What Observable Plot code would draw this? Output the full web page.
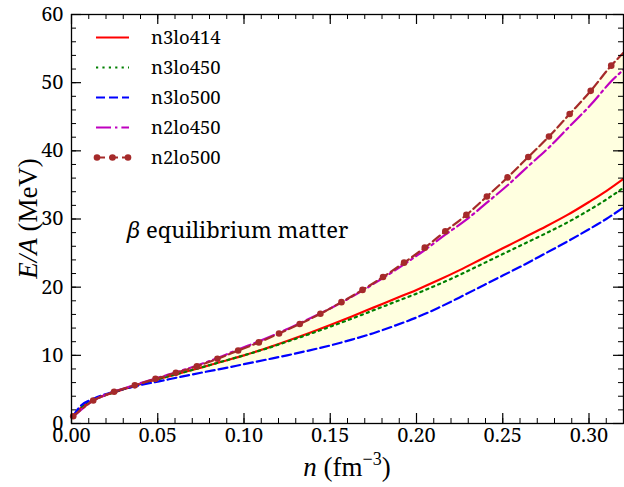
<!DOCTYPE html>
<html><head><meta charset="utf-8">
<script src="https://cdn.jsdelivr.net/npm/d3@7"></script>
<script src="https://cdn.jsdelivr.net/npm/@observablehq/plot@0.6"></script>
<style>
body{margin:0;background:#fff}
#chart{position:relative;width:624px;height:487px}
svg{display:block}
.lab{font-family:serif}
.txt{font-family:"Noto Serif"}
</style>
</head><body><div id="chart"></div>
<script>
// ---- data ----
const nN3 = [0.001,0.005,0.0125,0.025,0.0375,0.05,0.0625,0.075,0.0875,0.1,0.1125,0.125,0.1375,0.15,0.1625,0.175,0.1875,0.2,0.2125,0.225,0.2375,0.25,0.2625,0.275,0.2875,0.3,0.31,0.32];
const eN3lo414 = [1.0,2.2,3.4,4.6,5.6,6.5,7.35,8.2,9.1,10.0,11.0,12.1,13.25,14.45,15.7,17.0,18.3,19.6,21.0,22.5,24.1,25.7,27.3,28.9,30.6,32.5,34.1,35.9];
const eN3lo450 = [1.0,2.2,3.4,4.6,5.6,6.5,7.35,8.2,9.1,10.0,10.95,12.0,13.08,14.2,15.38,16.6,17.83,19.05,20.38,21.8,23.33,24.85,26.38,27.9,29.5,31.3,32.85,34.6];
const eN3lo500 = [1.1,2.5,3.6,4.7,5.5,6.15,6.8,7.45,8.05,8.7,9.35,10.0,10.7,11.45,12.3,13.25,14.35,15.55,16.95,18.5,20.1,21.7,23.3,25.0,26.7,28.5,30.0,31.7];
const nN2 = [0.001,0.0126,0.0247,0.0367,0.0487,0.0605,0.0727,0.0846,0.0966,0.1086,0.1203,0.1323,0.1443,0.1565,0.1687,0.1806,0.1928,0.2048,0.2167,0.2289,0.2408,0.2528,0.2648,0.2768,0.2888,0.301,0.3129,0.32];
const eN2lo450 = [1.0,3.35,4.68,5.65,6.6,7.5,8.5,9.6,10.85,12.05,13.3,14.7,16.15,17.75,19.5,21.35,23.35,25.45,27.7,29.9,32.4,34.95,37.75,40.5,43.6,46.75,50.2,51.9];
const eN2lo500 = [1.07,3.37,4.65,5.6,6.55,7.43,8.4,9.49,10.7,11.9,13.2,14.6,16.1,17.8,19.6,21.5,23.6,25.8,28.2,30.6,33.3,36.1,39.1,42.1,45.4,48.8,52.5,54.4];
const seriesNames = ["n3lo414","n3lo450","n3lo500","n2lo450","n2lo500"];
const xMajorTicks = [0,0.05,0.10,0.15,0.20,0.25,0.30];
const xMinorTicks = [0,0.01,0.02,0.03,0.04,0.05,0.06,0.07,0.08,0.09,0.10,0.11,0.12,0.13,0.14,0.15,0.16,0.17,0.18,0.19,0.20,0.21,0.22,0.23,0.24,0.25,0.26,0.27,0.28,0.29,0.30,0.31,0.32];
const yMajorTicks = [0,10,20,30,40,50,60];
const yMinorTicks = [0,2,4,6,8,10,12,14,16,18,20,22,24,26,28,30,32,34,36,38,40,42,44,46,48,50,52,54,56,58,60];
const annotationText = "equilibrium matter";

// ---- styles ----
const styles = {
  n3lo414:{stroke:"#ff0000", dash:null},
  n3lo450:{stroke:"#008000", dash:"2.2,4.2"},
  n3lo500:{stroke:"#0000ff", dash:"9,4"},
  n2lo450:{stroke:"#bf00bf", dash:"15,4,2.4,4"},
  n2lo500:{stroke:"#a52a2a", dash:"9,4"}
};
const W=624,H=487,mL=71,mR=1,mT=14,mB=64;
const pw=W-mL-mR, ph=H-mT-mB;
const LW = 2.2;

const rows = (ns,es) => ns.map((n,i)=>({n, e:es[i]}));
const d414 = rows(nN3,eN3lo414), d450 = rows(nN3,eN3lo450), d500 = rows(nN3,eN3lo500);
const d2450 = rows(nN2,eN2lo450), d2500 = rows(nN2,eN2lo500);
const series = {n3lo414:d414, n3lo450:d450, n3lo500:d500, n2lo450:d2450, n2lo500:d2500};

const lineMark = name => Plot.line(series[name], {x:"n", y:"e", stroke:styles[name].stroke, strokeWidth:LW,
  strokeDasharray: styles[name].dash || undefined, curve:"monotone-x"});

const MAJ=10, MIN=5;
const plot = Plot.plot({
  width:W, height:H, marginLeft:mL, marginRight:mR, marginTop:mT, marginBottom:mB,
  x:{domain:[0,0.32]}, y:{domain:[0,60]},
  style:{fontFamily:"Noto Serif", background:"white", color:"black"},
  marks:[
    Plot.areaY(d2500, {x:"n", y:"e", fill:"#ffffe0", curve:"monotone-x"}),
    Plot.areaY(d500, {x:"n", y:"e", fill:"white", curve:"monotone-x"}),
    lineMark("n3lo414"), lineMark("n3lo450"), lineMark("n3lo500"), lineMark("n2lo450"), lineMark("n2lo500"),
    Plot.dot(d2500.filter((d,i)=>i<d2500.length-1), {x:"n", y:"e", r:3.3, fill:styles.n2lo500.stroke, stroke:"none"}),
    // inward ticks on all four sides
    Plot.ruleX(xMajorTicks, {x:d=>d, insetTop:ph-MAJ, stroke:"black", strokeWidth:1.2}),
    Plot.ruleX(xMajorTicks, {x:d=>d, insetBottom:ph-MAJ, stroke:"black", strokeWidth:1.2}),
    Plot.ruleX(xMinorTicks, {x:d=>d, insetTop:ph-MIN, stroke:"black", strokeWidth:1}),
    Plot.ruleX(xMinorTicks, {x:d=>d, insetBottom:ph-MIN, stroke:"black", strokeWidth:1}),
    Plot.ruleY(yMajorTicks, {y:d=>d, insetRight:pw-MAJ, stroke:"black", strokeWidth:1.2}),
    Plot.ruleY(yMajorTicks, {y:d=>d, insetLeft:pw-MAJ, stroke:"black", strokeWidth:1.2}),
    Plot.ruleY(yMinorTicks, {y:d=>d, insetRight:pw-MIN, stroke:"black", strokeWidth:1}),
    Plot.ruleY(yMinorTicks, {y:d=>d, insetLeft:pw-MIN, stroke:"black", strokeWidth:1}),
    Plot.frame({stroke:"black", strokeWidth:1.3}),
    Plot.axisX(xMajorTicks, {tickSize:0, tickPadding:4, tickFormat:d3.format(".2f"), fontSize:20, label:null}),
    Plot.axisY(yMajorTicks, {tickSize:0, tickPadding:8, tickFormat:d=>String(d), fontSize:20, label:null})
  ]
});
document.getElementById("chart").appendChild(plot);

const svg = d3.select(plot);
// axis labels
const xl = svg.append("text").attr("class","lab").attr("x", mL+pw/2).attr("y", 476).attr("text-anchor","middle").attr("font-size",27);
xl.append("tspan").attr("font-style","italic").text("n");
xl.append("tspan").text(" (fm");
xl.append("tspan").attr("font-size",18).attr("dy",-11).text("\u22123");
xl.append("tspan").attr("dy",11).text(")");

const yl = svg.append("text").attr("class","lab").attr("transform",`translate(37,${mT+ph/2}) rotate(-90)`).attr("text-anchor","middle").attr("font-size",27);
yl.append("tspan").attr("font-style","italic").text("E/A");
yl.append("tspan").text(" (MeV)");

// annotation
const an = svg.append("text").attr("class","txt").attr("x",127).attr("y",238).attr("text-anchor","start").attr("font-size",22);
an.append("tspan").attr("font-style","italic").text("\u03B2");
an.append("tspan").text(" "+annotationText);

// legend
const lg = svg.append("g");
seriesNames.forEach((name,i)=>{
  const y = 37.5 + i*30;
  lg.append("line").attr("x1",96).attr("x2",129).attr("y1",y).attr("y2",y)
    .attr("stroke",styles[name].stroke).attr("stroke-width",LW)
    .attr("stroke-dasharray",styles[name].dash);
  if(name==="n2lo500"){
    [97,112.5,128].forEach(cx=>lg.append("circle").attr("cx",cx).attr("cy",y).attr("r",3.3).attr("fill",styles[name].stroke));
  }
  lg.append("text").attr("class","txt").attr("x",151).attr("y",y+6.5).attr("text-anchor","start").attr("font-size",18.5).text(name);
});
</script>
</body></html>
